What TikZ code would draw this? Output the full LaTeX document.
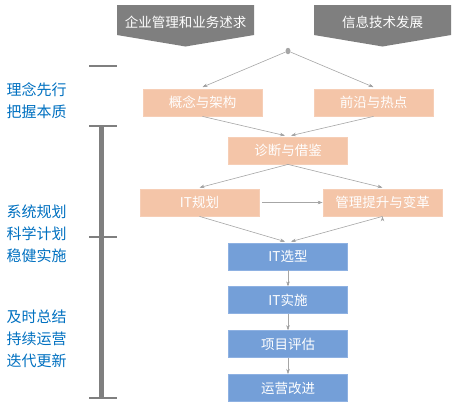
\documentclass[tikz,border=0pt]{standalone}
\usepackage{fontspec}
\setmainfont{Noto Sans CJK SC}
\usepackage{xcolor}
\usetikzlibrary{positioning, arrows.meta, shapes.geometric}
\definecolor{peach}{RGB}{244,197,168}
\definecolor{peachline}{RGB}{246,206,182}
\definecolor{steel}{RGB}{116,159,216}
\definecolor{steelline}{RGB}{142,177,226}
\definecolor{darkgray}{RGB}{127,127,127}
\definecolor{wire}{RGB}{166,166,166}
\definecolor{motto}{RGB}{0,112,192}

\begin{document}
\begin{tikzpicture}[x=1pt, y=-1pt,
    stage/.style={rectangle, fill=peach, draw=peachline, line width=0.8pt,
        minimum width=119pt, minimum height=27pt, inner sep=0pt,
        text=white, font=\fontsize{13.5}{15}\selectfont},
    task/.style={stage, fill=steel, draw=steelline},
    banner/.style={text=white, font=\fontsize{13.5}{16}\selectfont},
    motto/.style={anchor=west, align=left, text=motto,
        font=\fontsize{15}{22}\selectfont},
    flow/.style={->, draw=wire, line width=0.6pt, >={Stealth[length=5pt,width=3.5pt]}},
    tick/.style={draw=darkgray, line width=2.2pt}]
\useasboundingbox (0,0) rectangle (458,408);
%
\fill[darkgray] (117,5) -- (254,5) -- (254,35) -- (185.5,46.5) -- (117,35) -- cycle;
\fill[darkgray] (314,5) -- (451,5) -- (451,35) -- (382.5,46.5) -- (314,35) -- cycle;
\node[banner] (need) at (185.5,22) {企业管理和业务述求};
\node[banner] (tech) at (382.5,22) {信息技术发展};
\node[ellipse, fill=wire, minimum width=5pt, minimum height=6.5pt, inner sep=0pt] (hub) at (288,51) {};
%
\node[stage] (concept) at (202.5,102.5) {概念与架构};
\node[stage] (frontier) at (373.5,102.5) {前沿与热点};
\node[stage] (diagnose) at (288,150.5) {诊断与借鉴};
\node[stage] (plan) at (199.5,202.5) {IT规划};
\node[stage] (reform) at (382.5,202.5) {管理提升与变革};
\node[task] (select) at (288,256.5) {IT选型};
\node[task, below=16pt of select] (deploy) {IT实施};
\node[task, below=16pt of deploy] (assess) {项目评估};
\node[task, below=16pt of assess] (improve) {运营改进};
%
\path[flow]
    (hub) edge ([yshift=1.5pt]concept.north)
          edge ([yshift=1.5pt]frontier.north)
    (concept.south) edge ([xshift=-3pt,yshift=1pt]diagnose.north)
    (frontier.south) edge ([xshift=3pt,yshift=1pt]diagnose.north)
    (diagnose.south) edge ([yshift=1pt]plan.north)
                     edge ([yshift=1pt]reform.north)
    ([xshift=3pt]plan.east) edge (reform.west)
    (plan.south) edge ([xshift=-3pt,yshift=1pt]select.north)
    (reform.south) edge ([xshift=3pt,yshift=1pt]select.north)
    (select) edge (deploy)
    (deploy) edge (assess)
    (assess) edge (improve);
%
\draw[tick, line width=1.8pt] (89,66) -- (117,66);
\draw[draw=darkgray, line width=5pt] (101,126) -- (101,398);
\draw[tick] (89,126) -- (117,126);
\draw[tick] (89,237) -- (117,237);
\draw[tick] (89,398) -- (117,398);
%
\node[motto] (idea) at (3,101) {理念先行\\把握本质};
\node[motto] (system) at (3,234) {系统规划\\科学计划\\稳健实施};
\node[motto] (review) at (3,339) {及时总结\\持续运营\\迭代更新};
\end{tikzpicture}
\end{document}
